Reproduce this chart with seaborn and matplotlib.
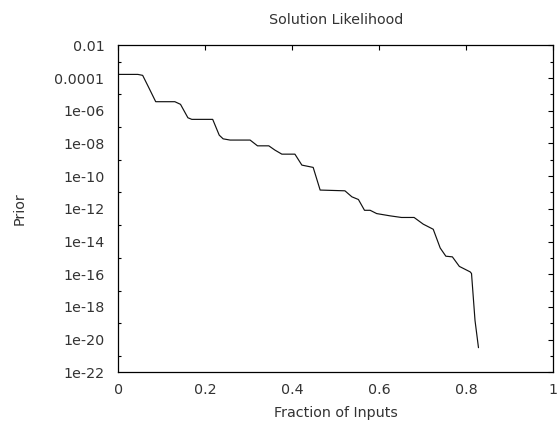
import matplotlib
matplotlib.use("Agg")
import matplotlib.pyplot as plt
import matplotlib.ticker as mticker
import seaborn as sns
import numpy as np

fraction = [0.0, 0.045, 0.056, 0.069, 0.086, 0.130, 0.143, 0.160, 0.169, 0.217,
            0.232, 0.241, 0.257, 0.303, 0.320, 0.346, 0.360, 0.376, 0.406, 0.422,
            0.448, 0.464, 0.521, 0.537, 0.552, 0.566, 0.579, 0.594, 0.625, 0.651,
            0.680, 0.701, 0.724, 0.740, 0.753, 0.768, 0.784, 0.809, 0.812, 0.820,
            0.828]
prior = [1.66e-4, 1.66e-4, 1.45e-4, 2.95e-5, 3.55e-6, 3.55e-6, 2.45e-6, 3.7e-7, 2.95e-7, 2.95e-7,
         3.2e-8, 1.9e-8, 1.6e-8, 1.6e-8, 7.1e-9, 7.1e-9, 3.9e-9, 2.2e-9, 2.2e-9, 4.7e-10,
         3.4e-10, 1.4e-11, 1.26e-11, 5.4e-12, 3.7e-12, 8.1e-13, 8.1e-13, 5.1e-13, 3.7e-13, 2.95e-13,
         2.95e-13, 1.15e-13, 5.6e-14, 4.0e-15, 1.26e-15, 1.15e-15, 3.0e-16, 1.38e-16, 1.1e-16, 1.5e-19,
         3.2e-21]

title = "Solution Likelihood"
xlabel = "Fraction of Inputs"
ylabel = "Prior"
xticks = [0, 0.2, 0.4, 0.6, 0.8, 1]
yticks = [1e-22, 1e-20, 1e-18, 1e-16, 1e-14, 1e-12, 1e-10, 1e-8, 1e-6, 1e-4, 1e-2]

sns.set_theme(style="white")
plt.rcParams['font.family'] = ['DejaVu Sans']

fig = plt.figure(figsize=(5.58, 4.22), dpi=100)
ax = fig.add_axes([118.3/558, 1-372.3/422, (553.3-118.3)/558, (372.3-45.3)/422])

sns.lineplot(x=fraction, y=prior, ax=ax, color="#111111", linewidth=0.85, estimator=None)

ax.set_yscale("log")
ax.set_xlim(0, 1)
ax.set_ylim(1e-22, 1e-2)
ax.set_xticks(xticks)
ax.set_yticks(yticks)
ax.yaxis.set_minor_locator(mticker.FixedLocator([10.0**k for k in range(-21, -2, 2)]))
ax.xaxis.set_minor_locator(mticker.NullLocator())
fmt = mticker.FuncFormatter(lambda v, p: f"{v:g}")
ax.xaxis.set_major_formatter(fmt)
ax.yaxis.set_major_formatter(fmt)
ax.yaxis.set_minor_formatter(mticker.NullFormatter())

txtc = "#333333"
fs = 10.3
ax.tick_params(axis="both", which="major", direction="in", length=3.5, width=0.8,
               top=True, right=True, labelsize=fs, colors="black", labelcolor=txtc)
ax.tick_params(axis="y", which="major", pad=10)
ax.tick_params(axis="x", which="major", pad=7.5)
ax.tick_params(axis="y", which="minor", direction="in", length=2, width=0.8,
               left=True, right=True, colors="black")
for s in ax.spines.values():
    s.set_visible(True)
    s.set_color("black")
    s.set_linewidth(0.9)

ax.set_title(title, fontsize=fs, color=txtc, pad=15)
ax.set_xlabel(xlabel, fontsize=fs, color=txtc, labelpad=7)
ax.set_ylabel(ylabel, fontsize=fs, color=txtc, labelpad=20)

fig.savefig("out.png", dpi=100)
